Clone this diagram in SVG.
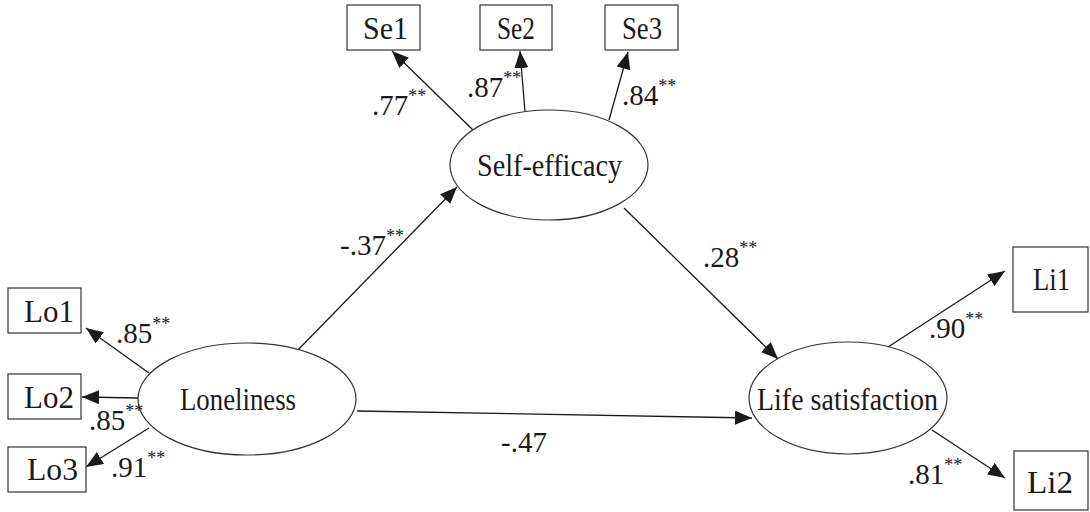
<svg xmlns="http://www.w3.org/2000/svg" width="1090" height="512" viewBox="0 0 1090 512">
<defs>
<marker id="arr" markerUnits="userSpaceOnUse" markerWidth="18" markerHeight="14" refX="17" refY="7" orient="auto">
<path d="M0,0 L17,7 L0,14 z" fill="#1a1a1a"/>
</marker>
</defs>
<style>
.box{fill:#fff;stroke:#333;stroke-width:1.2}
.ell{fill:#fff;stroke:#333;stroke-width:1.2}
.t{font-family:"Liberation Serif","DejaVu Serif",serif;font-size:32px;fill:#1a1a1a}
.n{font-family:"Liberation Serif","DejaVu Serif",serif;font-size:29px;fill:#1a1a1a}
.s{font-size:18px}
.c{stroke:#1a1a1a;stroke-width:1.3;fill:none;marker-end:url(#arr)}
</style>
<rect width="1090" height="512" fill="#fff"/>
<g id="connectors">
<line class="c" x1="473" y1="130" x2="392" y2="51"/>
<line class="c" x1="525" y1="112" x2="520" y2="51"/>
<line class="c" x1="609" y1="120" x2="628" y2="52"/>
<line class="c" x1="295" y1="353" x2="457" y2="187"/>
<line class="c" x1="624" y1="208" x2="778" y2="359"/>
<line class="c" x1="357" y1="411" x2="752" y2="418"/>
<line class="c" x1="149" y1="373" x2="86" y2="328"/>
<line class="c" x1="138" y1="398" x2="82" y2="397"/>
<line class="c" x1="149" y1="428" x2="86" y2="467"/>
<line class="c" x1="888" y1="347" x2="1005" y2="271"/>
<line class="c" x1="932" y1="430" x2="1005" y2="478"/>
</g>
<g id="Se1"><rect class="box" x="347" y="5" width="73" height="45"/><text class="t" x="363" y="39" textLength="45" lengthAdjust="spacingAndGlyphs">Se1</text></g>
<g id="Se2"><rect class="box" x="480" y="5" width="72" height="45"/><text class="t" x="497" y="39" textLength="38" lengthAdjust="spacingAndGlyphs">Se2</text></g>
<g id="Se3"><rect class="box" x="605" y="5" width="73" height="45"/><text class="t" x="622" y="39" textLength="40" lengthAdjust="spacingAndGlyphs">Se3</text></g>
<g id="Lo1"><rect class="box" x="8" y="288" width="73" height="45"/><text class="t" x="24" y="322" textLength="50" lengthAdjust="spacingAndGlyphs">Lo1</text></g>
<g id="Lo2"><rect class="box" x="8" y="374" width="73" height="45"/><text class="t" x="24" y="408" textLength="50" lengthAdjust="spacingAndGlyphs">Lo2</text></g>
<g id="Lo3"><rect class="box" x="8" y="447" width="78" height="45"/><text class="t" x="27" y="480" textLength="51" lengthAdjust="spacingAndGlyphs">Lo3</text></g>
<g id="Li1"><rect class="box" x="1013" y="247" width="75" height="65"/><text class="t" x="1033" y="290" textLength="37" lengthAdjust="spacingAndGlyphs">Li1</text></g>
<g id="Li2"><rect class="box" x="1014" y="451" width="74" height="59"/><text class="t" x="1027" y="493" textLength="46" lengthAdjust="spacingAndGlyphs">Li2</text></g>
<g id="SelfEfficacy"><ellipse class="ell" cx="549" cy="165" rx="99" ry="55"/><text class="t" x="477" y="176" textLength="145" lengthAdjust="spacingAndGlyphs">Self-efficacy</text></g>
<g id="Loneliness"><ellipse class="ell" cx="247" cy="399" rx="109" ry="56"/><text class="t" x="180" y="410" textLength="116" lengthAdjust="spacingAndGlyphs">Loneliness</text></g>
<g id="LifeSatisfaction"><ellipse class="ell" cx="848" cy="398" rx="99" ry="56"/><text class="t" x="757" y="410" textLength="181" lengthAdjust="spacingAndGlyphs">Life satisfaction</text></g>
<g id="labels">
<text class="n" x="372" y="115">.77<tspan class="s" dy="-13">**</tspan></text>
<text class="n" x="467" y="97">.87<tspan class="s" dy="-13">**</tspan></text>
<text class="n" x="622" y="105">.84<tspan class="s" dy="-13">**</tspan></text>
<text class="n" x="340" y="255">-.37<tspan class="s" dy="-13">**</tspan></text>
<text class="n" x="703" y="267">.28<tspan class="s" dy="-13">**</tspan></text>
<text class="n" x="501" y="452">-.47</text>
<text class="n" x="116" y="343">.85<tspan class="s" dy="-13">**</tspan></text>
<text class="n" x="89" y="430">.85<tspan class="s" dy="-13">**</tspan></text>
<text class="n" x="111" y="477">.91<tspan class="s" dy="-13">**</tspan></text>
<text class="n" x="929" y="338">.90<tspan class="s" dy="-13">**</tspan></text>
<text class="n" x="908" y="484">.81<tspan class="s" dy="-13">**</tspan></text>
</g>
</svg>
